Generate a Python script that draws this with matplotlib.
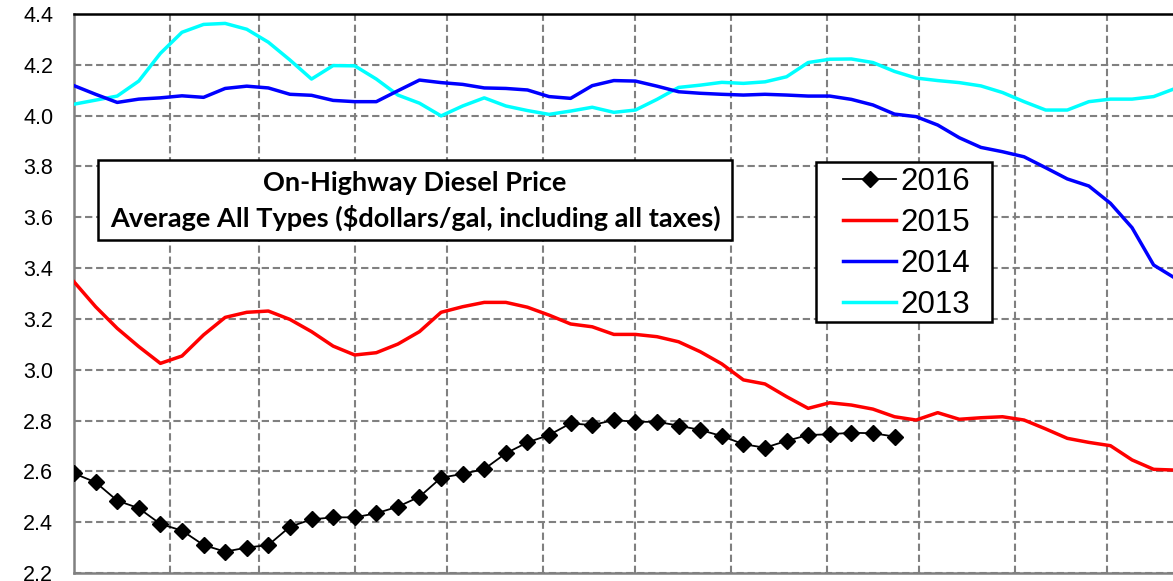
import numpy as np
import matplotlib.pyplot as plt
from matplotlib.patches import Rectangle

# weekly on-highway diesel price, $/gal (week 1 = first week of January)
p2016 = [2.592, 2.557, 2.485, 2.455, 2.393, 2.367, 2.310, 2.284, 2.300, 2.310,
         2.382, 2.411, 2.419, 2.419, 2.435, 2.461, 2.500, 2.575, 2.590, 2.609,
         2.671, 2.714, 2.743, 2.789, 2.782, 2.802, 2.795, 2.795, 2.780, 2.763,
         2.739, 2.707, 2.693, 2.720, 2.743, 2.746, 2.752, 2.750, 2.737]
p2015 = [3.346, 3.248, 3.163, 3.091, 3.025, 3.054, 3.137, 3.206, 3.226, 3.231,
         3.198, 3.150, 3.093, 3.058, 3.067, 3.101, 3.150, 3.226, 3.248, 3.265,
         3.265, 3.246, 3.215, 3.180, 3.169, 3.139, 3.139, 3.130, 3.110, 3.071,
         3.023, 2.960, 2.944, 2.894, 2.848, 2.870, 2.861, 2.845, 2.815, 2.802,
         2.831, 2.805, 2.811, 2.815, 2.802, 2.767, 2.730, 2.714, 2.701, 2.645,
         2.608, 2.605]
p2014 = [4.118, 4.084, 4.052, 4.065, 4.070, 4.078, 4.072, 4.107, 4.116, 4.109,
         4.084, 4.080, 4.060, 4.055, 4.055, 4.098, 4.140, 4.130, 4.123, 4.109,
         4.107, 4.101, 4.075, 4.068, 4.118, 4.138, 4.136, 4.116, 4.094, 4.088,
         4.084, 4.081, 4.084, 4.081, 4.077, 4.077, 4.064, 4.042, 4.006, 3.996,
         3.963, 3.913, 3.875, 3.858, 3.838, 3.795, 3.751, 3.723, 3.655, 3.559,
         3.412, 3.360]
p2013 = [4.045, 4.061, 4.077, 4.136, 4.245, 4.328, 4.359, 4.363, 4.340, 4.289,
         4.219, 4.144, 4.197, 4.196, 4.144, 4.081, 4.049, 3.999, 4.038, 4.070,
         4.038, 4.020, 4.005, 4.018, 4.033, 4.013, 4.022, 4.064, 4.111, 4.120,
         4.131, 4.127, 4.133, 4.153, 4.209, 4.222, 4.223, 4.209, 4.174, 4.148,
         4.138, 4.130, 4.117, 4.091, 4.055, 4.022, 4.022, 4.055, 4.065, 4.065,
         4.075, 4.107]

# first day of each month (leap year), used for the vertical grid
month_starts = [31, 60, 91, 121, 152, 182, 213, 244, 274, 305, 335]
yticks = np.arange(2.2, 4.41, 0.2)

def days(vals):
    return 7 * np.arange(len(vals))

plt.rcParams['font.family'] = ['Liberation Sans', 'DejaVu Sans']

fig = plt.figure(figsize=(11.73, 5.81), dpi=100)
ax = fig.add_axes([74 / 1173, 8 / 581, 1129 / 1173, 559 / 581])

# pixel -> axes fraction helpers for the boxes
def fx(px):
    return (px - 74) / 1129.0

def fy(py):
    return (573 - py) / 559.0

ax.plot(days(p2013), p2013, color='#00ffff', lw=2.5, label='2013', zorder=3)
ax.plot(days(p2014), p2014, color='#0000ff', lw=2.5, label='2014', zorder=3)
ax.plot(days(p2015), p2015, color='#ff0000', lw=2.5, label='2015', zorder=3)
ax.plot(days(p2016), p2016, color='black', lw=1.3, marker='D', ms=8,
        label='2016', zorder=4)

ax.set_xlim(0, 366)
ax.set_ylim(2.2, 4.4)
ax.set_xticks(month_starts)
ax.set_xticklabels([])
ax.set_yticks(yticks)
ax.set_yticklabels(['%.1f' % v for v in yticks])
ax.tick_params(axis='both', length=0)
ax.tick_params(axis='y', labelsize=15.5, pad=15)
ax.grid(True, color='#808080', lw=1.5, linestyle=(0, (3.5, 1.8)))
ax.set_axisbelow(True)

for side in ['left', 'bottom']:
    ax.spines[side].set_color('#808080')
    ax.spines[side].set_linewidth(1.8)
ax.spines['top'].set_color('black')
ax.spines['top'].set_linewidth(1.8)
ax.spines['right'].set_visible(False)

# legend with its own frame
ax.add_patch(Rectangle((fx(816), fy(322)), 176 / 1129.0, 160 / 559.0,
                       transform=ax.transAxes, facecolor='white',
                       edgecolor='black', lw=1.8, zorder=5))
handles, labels = ax.get_legend_handles_labels()
order = [3, 2, 1, 0]
leg = ax.legend([handles[i] for i in order], [labels[i] for i in order],
                loc='upper left', bbox_to_anchor=(fx(843), fy(167)),
                borderaxespad=0, borderpad=0, fontsize=22.5, frameon=False,
                handlelength=1.7, handletextpad=0.13, labelspacing=0.35)
leg.set_zorder(6)

# title box
ax.add_patch(Rectangle((fx(98), fy(240)), 634 / 1129.0, 80 / 559.0,
                       transform=ax.transAxes, facecolor='white',
                       edgecolor='black', lw=1.8, zorder=5))
title_kw = dict(transform=ax.transAxes, ha='center', va='center',
                fontsize=19.5, fontweight='bold',
                family=['Lato', 'DejaVu Sans'], zorder=6)
ax.text(fx(415), fy(183), 'On-Highway Diesel Price', **title_kw)
ax.text(fx(415), fy(218),
        'Average All Types ($dollars/gal, including all taxes)', **title_kw)

fig.savefig('out.png', dpi=100)
